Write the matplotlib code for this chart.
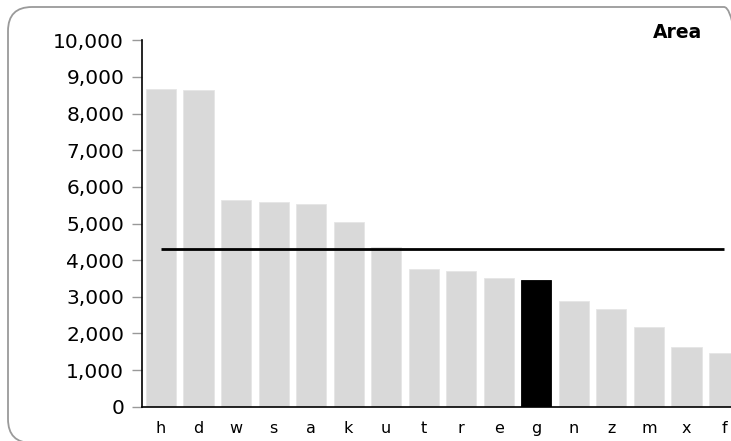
import matplotlib
matplotlib.use("Agg")
import matplotlib.pyplot as plt
from matplotlib.patches import FancyBboxPatch
from matplotlib.ticker import FuncFormatter

categories = ["h", "d", "w", "s", "a", "k", "u", "t", "r", "e", "g", "n", "z", "m", "x", "f"]
values = [8670, 8645, 5635, 5600, 5545, 5045, 4370, 3745, 3715, 3505, 3445, 2875, 2670, 2180, 1630, 1470]
highlight = "g"
average = 4310
title = "Area"

W, H = 731, 441
fig = plt.figure(figsize=(W / 100, H / 100), dpi=100, facecolor="white")
plt.rcParams['font.family'] = ['DejaVu Sans']

# rounded outer frame (pixel coordinates)
frame = FancyBboxPatch((8, -2), 740, 436, boxstyle="round,pad=0,rounding_size=24",
                       transform=None, facecolor="none", edgecolor="#9a9a9a",
                       linewidth=1.3, zorder=-1)
fig.patches.append(frame)

left = 142.2 / W
bottom = (H - 406.7) / H
top = (H - 40.3) / H
right = 742.8 / W
ax = fig.add_axes([left, bottom, right - left, top - bottom])
ax.set_facecolor("none")

x = list(range(len(categories)))
colors = ["#000000" if c == highlight else "#d9d9d9" for c in categories]
edges = ["#000000" if c == highlight else "#e6e6e6" for c in categories]
ax.bar(x, values, width=0.8, color=colors, edgecolor=edges, linewidth=0.6, zorder=2)
ax.hlines(average, 0, len(categories) - 1, color="black", linewidth=2.0, zorder=3)

ax.set_xlim(-0.5, len(categories) - 0.5)
ax.set_ylim(0, 10000)
ax.set_yticks(range(0, 10001, 1000))
ax.yaxis.set_major_formatter(FuncFormatter(lambda v, p: f"{int(v):,}"))
ax.set_xticks(x)
ax.set_xticklabels(categories)

ax.tick_params(axis="y", length=7, width=1, color="#999999", labelsize=14.5, pad=6, labelcolor="black")
ax.tick_params(axis="x", length=0, labelsize=11.5, pad=10.5, labelcolor="black")

for s in ["top", "right"]:
    ax.spines[s].set_visible(False)
ax.spines["left"].set_color("black")
ax.spines["bottom"].set_color("black")
ax.spines["left"].set_linewidth(1.2)
ax.spines["bottom"].set_linewidth(1.2)

fig.text(702 / W, (H - 33) / H, title, ha="right", va="center", fontsize=13.5, fontweight="bold")

fig.savefig("out.png", dpi=100, facecolor="white")
